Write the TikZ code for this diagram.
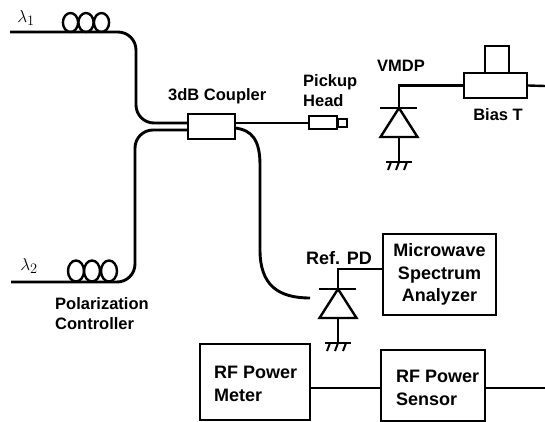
\documentclass[tikz,border=0pt]{standalone}
\usepackage[no-math]{fontspec}
\setmainfont{Liberation Sans}
\usetikzlibrary{
positioning,
calc
}

\begin{document}
\begin{tikzpicture}[
    x=1pt,
    y=-1pt,
    font=\bfseries,
    fiber/.style={line width=2.9pt},
    wire/.style={line width=2.4pt},
    boxnode/.style={draw, line width=2.4pt, inner sep=0pt, fill=white},
    label16/.style={font=\bfseries\fontsize{16.5}{20}\selectfont, inner sep=0pt},
    label18/.style={font=\bfseries\fontsize{18}{22.5}\selectfont, inner sep=0pt, align=center}
]

\useasboundingbox (0,0) rectangle (545,422);

% =========================
% FIBER INPUTS
% =========================
\coordinate (lambdaone) at (10,32);
\coordinate (lambdatwo) at (11,282);
\coordinate (bendoneA) at (136,32);
\coordinate (bendoneB) at (136,123);
\coordinate (bendtwoA) at (135,282);
\coordinate (bendtwoB) at (135,130);

\node[inner sep=0pt] (lambdaonelabel) at (26,18) {\fontsize{19}{22}\selectfont$\lambda_1$};
\node[inner sep=0pt] (lambdatwolabel) at (29,266) {\fontsize{19}{22}\selectfont$\lambda_2$};

% =========================
% 3dB COUPLER
% =========================
\node[boxnode, minimum width=47pt, minimum height=25pt] (coupler) at (211.5,126.5) {};
\node[label16, anchor=west] (couplerlabel) at (168,96) {3dB Coupler};

\coordinate (couplerinA) at (188,123);
\coordinate (couplerinB) at (188,130);
\coordinate (coupleroutA) at (235,123);
\coordinate (coupleroutB) at (235,128);

\draw[fiber, rounded corners=18pt] (lambdaone) -- (bendoneA) -- (bendoneB) -- (couplerinA);
\draw[fiber, rounded corners=18pt] (lambdatwo) -- (bendtwoA) -- (bendtwoB) -- (couplerinB);

% Polarization controller loops
\foreach \cx in {70.5,86,101.5}{
    \draw[line width=2.4pt] (\cx,22.5) ellipse (7.6 and 9.5);
}
\foreach \cx in {76,92,109}{
    \draw[line width=2.4pt] (\cx,271) ellipse (8 and 10.5);
}

\node[label16, anchor=west, align=left] (controllerlabel) at (55,314)
{Polarization\\Controller};

% =========================
% PICKUP HEAD
% =========================
\node[boxnode, line width=2pt, minimum width=9pt, minimum height=8pt] (pickuptip) at (342,123) {};
\node[boxnode, line width=2pt, minimum width=28pt, minimum height=13pt] (pickup) at (323,123) {};
\node[label16, anchor=west, align=left] (pickuplabel) at (303,90.5) {Pickup\\Head};

\draw[fiber] (coupleroutA) -- (pickup.west);

% =========================
% PHOTODIODES
% =========================
\foreach \name/\px/\py in {vmdp/399/108, refpd/338/289}{
    \coordinate (\name bar) at (\px,\py);
    \coordinate (\name base) at (\px,\py+29);
    \draw[wire] (\px-19,\py) -- (\px+18,\py);
    \draw[wire] (\name bar) -- (\px+18.5,\py+29) -- (\px-18.5,\py+29) -- cycle;
    \draw[wire] (\name base) -- (\px,\py+54);
    \draw[wire] (\px-13,\py+54) -- (\px+13,\py+54);
    \foreach \hx in {-8,0,8}{
        \draw[line width=2pt] (\px+\hx,\py+54) -- (\px+\hx-3,\py+62);
    }
}

\node[label16, anchor=center] (vmdplabel) at (401,66) {VMDP};
\node[font=\bfseries\fontsize{18}{22}\selectfont, inner sep=0pt] (refpdlabel) at (339,258) {Ref. PD};

% =========================
% BIAS T
% =========================
\node[boxnode, minimum width=24pt, minimum height=28pt] (biasstub) at (497,60) {};
\node[boxnode, minimum width=63pt, minimum height=25pt] (biast) at (495.5,85.5) {};
\node[label16, anchor=center] (biaslabel) at (498,115) {Bias T};
\coordinate (biasout) at (545,86);

\draw[wire] (vmdpbar) |- (biast.west);
\draw[wire] (biast.east) -- (biasout);

% =========================
% MICROWAVE SPECTRUM ANALYZER
% =========================
\node[boxnode, minimum width=113pt, minimum height=81pt, label18] (analyzer) at (439.5,274.5)
{Microwave\\Spectrum\\Analyzer};

\draw[wire] (refpdbar) |- (analyzer.west |- 0,269);

% =========================
% RF POWER
% =========================
\node[boxnode, minimum width=110pt, minimum height=76pt] (meter) at (255,382) {};
\node[label18, align=left, anchor=west] (meterlabel) at (214,384) {RF Power\\Meter};
\node[boxnode, minimum width=104pt, minimum height=71pt] (sensor) at (433,385.5) {};
\node[label18, align=left, anchor=west] (sensorlabel) at (396,388) {RF Power\\Sensor};
\coordinate (sensorout) at (545,388);

\draw[wire, line width=2.9pt] (meter.east |- sensorout) -- (sensor.west |- sensorout);
\draw[wire] (sensor.east |- sensorout) -- (sensorout);

% Coupler to reference photodiode
\coordinate (refin) at (310,298);
\draw[fiber] (coupleroutB)
.. controls (252,130) and (260,140) ..
(260,165) -- (260,250)
.. controls (260,285) and (278,298) ..
(refin);

\end{tikzpicture}
\end{document}
